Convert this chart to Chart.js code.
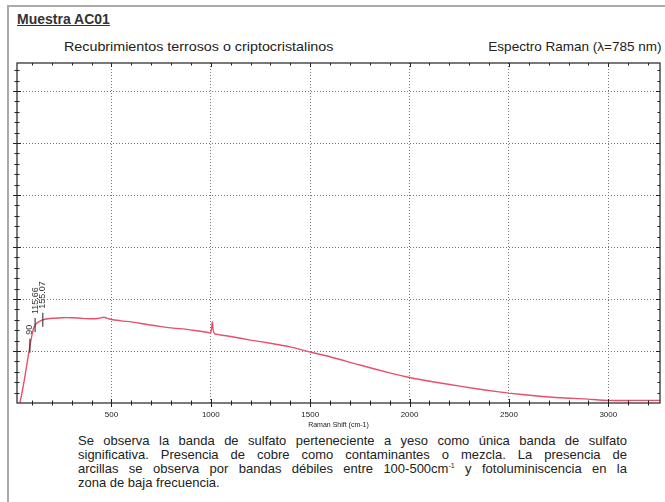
<!DOCTYPE html>
<html>
<head>
<meta charset="utf-8">
<script src="https://cdn.jsdelivr.net/npm/chart.js@4"></script>
<style>
    body { margin: 0; background: #fff; font-family: "Liberation Sans", Arial, sans-serif; color: #222; }
    #page { position: relative; width: 665px; height: 502px; overflow: hidden; }
    #frame { position: absolute; left: 7px; top: 5px; width: 656px; height: 500px; border-left: 2px solid #aaa; border-top: 2px solid #aaa; border-right: 1px solid #ccc; }
    #title { position: absolute; left: 17px; top: 11px; font-size: 14px; font-weight: bold; text-decoration: underline; color: #333; }
    #subtitle { position: absolute; left: 64px; top: 39px; font-size: 13px; transform: scaleX(1.1); transform-origin: left center; }
    #method { position: absolute; right: 3px; top: 39px; font-size: 13px; transform: scaleX(1.04); transform-origin: right center; }
    #chart { position: absolute; left: 0; top: 55px; }
    #notes { position: absolute; left: 78px; top: 434px; width: 549px; font-size: 13px; line-height: 14px; }
    #notes div { text-align: justify; text-align-last: justify; white-space: nowrap; }
    #notes div.last { text-align-last: left; }
</style>
</head>
<body>
<div id="page">
    <div id="frame"></div>
    <div id="title">Muestra AC01</div>
    <div id="subtitle">Recubrimientos terrosos o criptocristalinos</div>
    <div id="method">Espectro Raman (λ=785 nm)</div>
    <canvas id="chart" width="665" height="377"></canvas>
    <div id="notes">
        <div>Se observa la banda de sulfato perteneciente a yeso como única banda de sulfato</div>
        <div>significativa. Presencia de cobre como contaminantes o mezcla. La presencia de</div>
        <div>arcillas se observa por bandas débiles entre 100-500cm<sup style="font-size:7px;line-height:0">-1</sup> y fotoluminiscencia en la</div>
        <div class="last">zona de baja frecuencia.</div>
    </div>
</div>
<script>
// Raman shift (cm-1) and intensity
const ramanShift = [40, 60, 75, 90, 100, 107, 116, 130, 155, 180, 208, 250, 300, 344, 400, 440, 460, 495, 550, 600, 650, 696, 750, 812, 870, 930, 980, 999, 1004, 1008, 1012, 1020, 1100, 1200, 1300, 1400, 1500, 1600, 1750, 1900, 2000, 2130, 2260, 2380, 2500, 2630, 2760, 2880, 3000, 3130, 3260];
const intensity  = [0, 0.4, 0.75, 1.1, 1.3, 1.42, 1.5, 1.55, 1.6, 1.62, 1.63, 1.64, 1.64, 1.63, 1.62, 1.63, 1.65, 1.61, 1.58, 1.56, 1.53, 1.5, 1.47, 1.44, 1.42, 1.39, 1.36, 1.35, 1.45, 1.56, 1.4, 1.33, 1.28, 1.21, 1.15, 1.08, 0.98, 0.89, 0.73, 0.58, 0.49, 0.4, 0.32, 0.25, 0.19, 0.14, 0.1, 0.08, 0.05, 0.05, 0.05];

// marked peaks
const peakShifts = [90, 116, 155];
const peakLabels = ['90', '115.66', '155.07'];

// axis ticks
const xTickValues = [];
for (let v = 100; v <= 3200; v += 100) xTickValues.push(v);
const yTickValues = [0, 1, 2, 3, 4, 5, 6];

const xMin = 25, xMax = 3260, yMax = 6.54;

// frame, minor ticks and peak labels
const framePlugin = {
    id: 'frame',
    afterDatasetsDraw(chart) {
        const { ctx, chartArea: a, scales: { x, y } } = chart;
        ctx.save();
        ctx.strokeStyle = '#222';
        ctx.lineWidth = 1.2;
        ctx.strokeRect(a.left, a.top, a.right - a.left, a.bottom - a.top);

        ctx.lineWidth = 1;
        xTickValues.forEach(v => {
            const px = Math.round(x.getPixelForValue(v)) + 0.5;
            const big = v % 500 === 0 ? 4 : 2.5;
            ctx.beginPath();
            ctx.moveTo(px, a.bottom - big);
            ctx.lineTo(px, a.bottom + big);
            ctx.moveTo(px, a.top);
            ctx.lineTo(px, a.top + big);
            ctx.stroke();
        });
        for (let i = 1; i * 0.2 < yMax; i++) {
            const py = Math.round(y.getPixelForValue(i * 0.2)) + 0.5;
            const big = i % 5 === 0 ? 4 : 2.5;
            ctx.beginPath();
            ctx.moveTo(a.left - big, py);
            ctx.lineTo(a.left + big, py);
            ctx.moveTo(a.right - big, py);
            ctx.lineTo(a.right, py);
            ctx.stroke();
        }

        // peak markers
        ctx.fillStyle = '#333';
        ctx.font = '9px "Liberation Sans", Arial, sans-serif';
        ctx.textBaseline = 'middle';
        peakShifts.forEach((s, i) => {
            const idx = ramanShift.indexOf(s);
            const px = x.getPixelForValue(s);
            const py = y.getPixelForValue(intensity[idx]);
            ctx.beginPath();
            ctx.moveTo(px, py - 7);
            ctx.lineTo(px, py + 7);
            ctx.stroke();
            ctx.save();
            ctx.translate(px, py - 11);
            ctx.rotate(-Math.PI / 2);
            ctx.textAlign = 'left';
            ctx.fillText(peakLabels[i], 0, 0);
            ctx.restore();
        });
        ctx.restore();
    }
};

const ctx = document.getElementById('chart').getContext('2d');
new Chart(ctx, {
    type: 'line',
    data: {
        datasets: [{
            data: ramanShift.map((s, i) => ({ x: s, y: intensity[i] })),
            borderColor: '#e8506a',
            borderWidth: 1.4,
            pointRadius: 0,
            tension: 0.2
        }]
    },
    options: {
        responsive: false,
        animation: false,
        layout: { padding: { left: 17, right: 5, top: 8, bottom: 0 } },
        plugins: { legend: { display: false }, tooltip: { enabled: false } },
        scales: {
            x: {
                type: 'linear',
                min: xMin,
                max: xMax,
                afterBuildTicks: scale => { scale.ticks = xTickValues.map(v => ({ value: v })); },
                afterFit: scale => { scale.height = 29; },
                ticks: {
                    autoSkip: false,
                    maxRotation: 0,
                    padding: 7,
                    color: '#222',
                    font: { size: 8, family: '"Liberation Sans", Arial, sans-serif' },
                    callback: v => (v % 500 === 0 ? v : '')
                },
                grid: {
                    drawTicks: false,
                    color: c => (c.tick && c.tick.value % 500 === 0 ? '#777' : 'rgba(0,0,0,0)'),
                    lineWidth: 1
                },
                border: { display: false, dash: [1, 2] },
                title: {
                    display: true,
                    text: 'Raman Shift (cm-1)',
                    color: '#222',
                    font: { size: 7, family: '"Liberation Sans", Arial, sans-serif' },
                    padding: { top: 0, bottom: 3 }
                }
            },
            y: {
                min: 0,
                max: yMax,
                afterBuildTicks: scale => { scale.ticks = yTickValues.map(v => ({ value: v })); },
                afterFit: scale => { scale.width = 0; },
                ticks: { display: false },
                grid: {
                    drawTicks: false,
                    color: c => (c.tick && c.tick.value > 0 ? '#777' : 'rgba(0,0,0,0)'),
                    lineWidth: 1
                },
                border: { display: false, dash: [1, 2] }
            }
        }
    },
    plugins: [framePlugin]
});
</script>
</body>
</html>
